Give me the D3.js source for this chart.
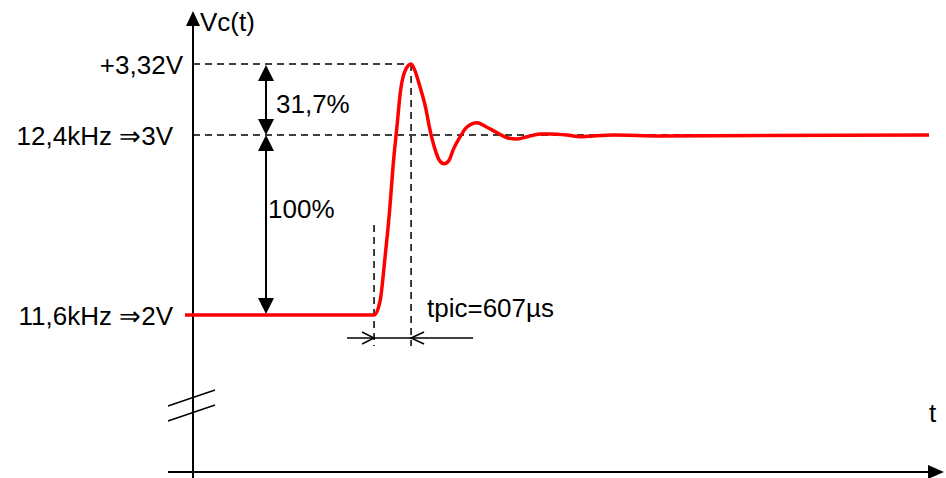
<!DOCTYPE html>
<html>
<head>
<meta charset="utf-8">
<script src="https://cdn.jsdelivr.net/npm/d3@7"></script>
<style>
  html, body { margin: 0; padding: 0; background: #fff; }
  svg text { font-family: "Liberation Sans", Arial, sans-serif; font-size: 26px; fill: #000; }
</style>
</head>
<body>
<svg id="canvas" width="946" height="478"></svg>
<script>
// reference levels (V) and their labels
let levels = [2, 3, 3.32]
let levelLabels = ["11,6kHz \u21D22V", "12,4kHz \u21D23V", "+3,32V"]

// step response Vc(t), time in µs from the step
let timeUs = [-3100, 0, 100, 180, 260, 310, 380, 430, 510, 607, 670, 750, 840, 920, 1000, 1070, 1150, 1230,
              1300, 1410, 1520, 1690, 1850, 2020, 2180, 2350, 2510, 2720, 2890, 3160, 3380, 3590, 3920, 4690, 9100]
let vc = [2, 2, 2.08, 2.32, 2.6, 2.82, 3.05, 3.19, 3.29, 3.32, 3.29, 3.22, 3.13, 3.02, 2.92, 2.86, 2.84, 2.86,
          2.92, 2.99, 3.035, 3.055, 3.035, 3.01, 2.985, 2.978, 2.99, 3.005, 3.005, 3.0, 2.99, 2.995, 3.0, 2.995, 3.0]

let tpic = 607
let overshoot = "31,7%"
let fullStep = "100%"

let canvas = d3.select("#canvas")

let x = d3.scaleLinear().domain([-3100, 9100]).range([185, 929])
let y = d3.scaleLinear().domain(levels).range([315, 135, 64])

let axisX = 193
let axisY = 472

let draw = () => {

    // level dashes
    canvas.append('line')
        .attr('x1', axisX).attr('x2', x(tpic))
        .attr('y1', y(3.32)).attr('y2', y(3.32))
        .attr('stroke', '#000').attr('stroke-width', 1.5).attr('stroke-dasharray', '7,5')
    canvas.append('line')
        .attr('x1', axisX).attr('x2', x(9100))
        .attr('y1', y(3)).attr('y2', y(3))
        .attr('stroke', '#000').attr('stroke-width', 1.5).attr('stroke-dasharray', '7,5')

    // vertical dashes for tpic
    canvas.append('line')
        .attr('x1', x(0)).attr('x2', x(0))
        .attr('y1', 225).attr('y2', 346)
        .attr('stroke', '#000').attr('stroke-width', 1.5).attr('stroke-dasharray', '7,5')
    canvas.append('line')
        .attr('x1', x(tpic)).attr('x2', x(tpic))
        .attr('y1', y(3.32)).attr('y2', 346)
        .attr('stroke', '#000').attr('stroke-width', 1.5).attr('stroke-dasharray', '7,5')

    // axes
    canvas.append('line')
        .attr('x1', axisX).attr('x2', axisX)
        .attr('y1', 24).attr('y2', 478)
        .attr('stroke', '#000').attr('stroke-width', 2)
    canvas.append('path')
        .attr('d', `M${axisX},11 L${axisX - 7},26 L${axisX + 7},26 Z`)
        .attr('fill', '#000')
    canvas.append('line')
        .attr('x1', 168).attr('x2', 930)
        .attr('y1', axisY).attr('y2', axisY)
        .attr('stroke', '#000').attr('stroke-width', 2)
    canvas.append('path')
        .attr('d', `M944,${axisY} L928,${axisY - 7} L928,${axisY + 7} Z`)
        .attr('fill', '#000')

    canvas.append('text').attr('x', 200).attr('y', 31).text('Vc(t)')
    canvas.append('text').attr('x', 929).attr('y', 422).text('t')

    // axis break
    canvas.append('line').attr('x1', 168).attr('y1', 406).attr('x2', 215).attr('y2', 390)
        .attr('stroke', '#000').attr('stroke-width', 1.5)
    canvas.append('line').attr('x1', 168).attr('y1', 421).attr('x2', 215).attr('y2', 405)
        .attr('stroke', '#000').attr('stroke-width', 1.5)

    // level labels
    let labelRight = [173, 173, 183]
    canvas.selectAll('.lvl')
        .data(levels)
        .enter()
        .append('text')
        .attr('class', 'lvl')
        .attr('x', (d, i) => labelRight[i])
        .attr('y', d => y(d) + 10)
        .attr('text-anchor', 'end')
        .text((d, i) => levelLabels[i])

    // double arrows
    let ax = 266
    let arrow = (x0, tipY, dir) => {
        canvas.append('path')
            .attr('d', `M${x0},${tipY} L${x0 - 8},${tipY - dir * 16} L${x0 + 8},${tipY - dir * 16} Z`)
            .attr('fill', '#000')
    }
    canvas.append('line').attr('x1', ax).attr('x2', ax).attr('y1', y(3.32) + 4).attr('y2', y(3) - 4)
        .attr('stroke', '#000').attr('stroke-width', 2)
    arrow(ax, y(3.32) + 1, -1)
    arrow(ax, y(3), 1)
    canvas.append('line').attr('x1', ax).attr('x2', ax).attr('y1', y(3) + 4).attr('y2', y(2) - 4)
        .attr('stroke', '#000').attr('stroke-width', 2)
    arrow(ax, y(3), -1)
    arrow(ax, y(2) - 1, 1)

    canvas.append('text').attr('x', 276).attr('y', 113).text(overshoot)
    canvas.append('text').attr('x', 268).attr('y', 218).text(fullStep)

    // tpic dimension
    let dimY = 338
    canvas.append('line').attr('x1', x(0) - 27).attr('x2', x(tpic) + 62).attr('y1', dimY).attr('y2', dimY)
        .attr('stroke', '#000').attr('stroke-width', 1.5)
    canvas.append('path')
        .attr('d', `M${x(0) - 12},${dimY - 6} L${x(0)},${dimY} L${x(0) - 12},${dimY + 6}`)
        .attr('fill', 'none').attr('stroke', '#000').attr('stroke-width', 1.5)
    canvas.append('path')
        .attr('d', `M${x(tpic) + 13},${dimY - 6} L${x(tpic)},${dimY} L${x(tpic) + 13},${dimY + 6}`)
        .attr('fill', 'none').attr('stroke', '#000').attr('stroke-width', 1.5)
    canvas.append('text').attr('x', 427).attr('y', 317).text(`tpic=${tpic}\u00B5s`)

    // response curve
    let pts = timeUs.map((t, i) => [t, vc[i]])
    let line = d3.line()
        .x(d => x(d[0]))
        .y(d => y(d[1]))
        .curve(d3.curveMonotoneX)
    canvas.append('path')
        .datum(pts)
        .attr('d', line)
        .attr('fill', 'none')
        .attr('stroke', '#ff0000')
        .attr('stroke-width', 3.5)
        .attr('stroke-linejoin', 'round')
}

draw()
</script>
</body>
</html>
